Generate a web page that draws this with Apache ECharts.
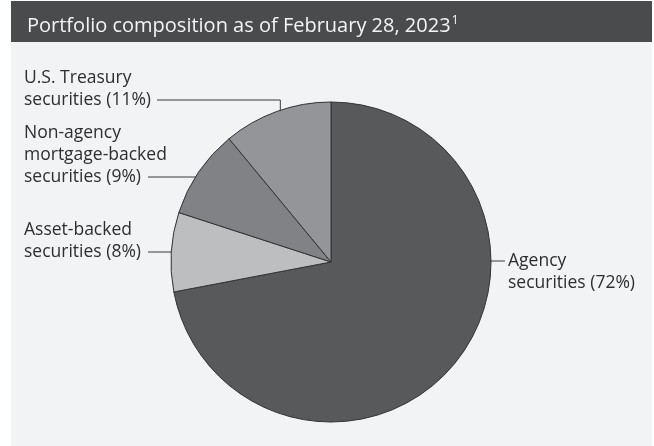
<!DOCTYPE html>
<html>
<head>
<meta charset="utf-8">
<script src="https://cdn.jsdelivr.net/npm/echarts@6/dist/echarts.min.js"></script>
<style>
html,body{margin:0;padding:0;background:#ffffff;}
#chart{width:654px;height:446px;}
</style>
</head>
<body>
<div id="chart"></div>
<script>
// ---- data ----
const categories = ['Agency\nsecurities', 'Asset-backed\nsecurities', 'Non-agency\nmortgage-backed\nsecurities', 'U.S. Treasury\nsecurities'];
const values = [72, 8, 9, 11];
const colors = ['#58595b', '#bcbec0', '#808285', '#939598'];
const titleText = 'Portfolio composition as of February 28, 2023';
const titleNote = '1';

// ---- layout (positions / styles only) ----
const CENTER = [331, 262];
const RADIUS = 160;
const LH = 22;
const labelCfg = [
  { side: 'right', textX: 508, lineY: 261, startX: 466, endX: 505 },
  { side: 'left', textX: 24, lineY: 252, startR: 0.915, endX: 148 },
  { side: 'left', textX: 24, lineY: 177, startR: 0.925, endX: 148 },
  { side: 'left', textX: 24, lineY: 100, startR: 0.935, endX: 157, elbow: true }
];

const total = values.reduce((a, b) => a + b, 0);
function midAngle(i) {
  let cum = 0;
  for (let k = 0; k < i; k++) cum += values[k];
  return (cum + values[i] / 2) / total * 2 * Math.PI;
}
function polar(a, r) {
  return [CENTER[0] + r * Math.sin(a), CENTER[1] - r * Math.cos(a)];
}

const chart = echarts.init(document.getElementById('chart'), null, { renderer: 'canvas' });
const option = {
  animation: false,
  backgroundColor: '#ffffff',
  graphic: [
    { type: 'rect', z: 0, shape: { x: 11, y: 1, width: 641, height: 445 }, style: { fill: '#f2f3f5' }, silent: true },
    { type: 'rect', z: 0, shape: { x: 11, y: 1, width: 641, height: 41 }, style: { fill: '#4a4b4d' }, silent: true }
  ],
  title: {
    text: titleText + '{sup|' + titleNote + '}',
    left: 22,
    top: 8,
    textStyle: {
      fontFamily: 'Open Sans',
      fontSize: 20,
      fontWeight: 'normal',
      color: '#f4f4f4',
      lineHeight: 26,
      rich: {
        sup: { fontFamily: 'Open Sans', fontSize: 12.5, color: '#f4f4f4', padding: [0, 0, 11, 1] }
      }
    }
  },
  series: [{
    type: 'pie',
    center: CENTER,
    radius: RADIUS,
    startAngle: 90,
    clockwise: true,
    silent: true,
    itemStyle: { borderColor: '#333333', borderWidth: 1 },
    label: {
      show: true,
      position: 'outside',
      overflow: 'none',
      width: 200,
      edgeDistance: 0,
      bleedMargin: 0,
      fontFamily: 'Open Sans',
      fontSize: 17.5,
      lineHeight: LH,
      color: '#2e2e2e',
      formatter: p => p.name + ' (' + p.value + '%)'
    },
    labelLine: {
      show: true,
      lineStyle: { color: '#3a3a3a', width: 1 }
    },
    labelLayout: function (params) {
      const i = params.dataIndex;
      const c = labelCfg[i];
      const nLines = categories[i].split('\n').length;
      if (c.side === 'right') {
        return {
          x: c.textX,
          y: c.lineY - LH / 2,
          width: 200,
          align: 'left',
          verticalAlign: 'top',
          labelLinePoints: [[c.startX, c.lineY], [c.endX, c.lineY], [c.endX, c.lineY]]
        };
      }
      const a = midAngle(i);
      const s = polar(a, RADIUS * c.startR);
      let pts;
      if (c.elbow) {
        pts = [[s[0], s[1]], [s[0], c.lineY], [c.endX, c.lineY]];
      } else {
        pts = [[s[0], c.lineY], [c.endX, c.lineY], [c.endX, c.lineY]];
      }
      return {
        x: c.textX,
        y: c.lineY - (nLines - 0.5) * LH,
        width: 200,
        align: 'left',
        verticalAlign: 'top',
        labelLinePoints: pts
      };
    },
    data: categories.map((name, i) => ({ name: name, value: values[i], itemStyle: { color: colors[i] } }))
  }]
};
chart.setOption(option);
</script>
</body>
</html>
